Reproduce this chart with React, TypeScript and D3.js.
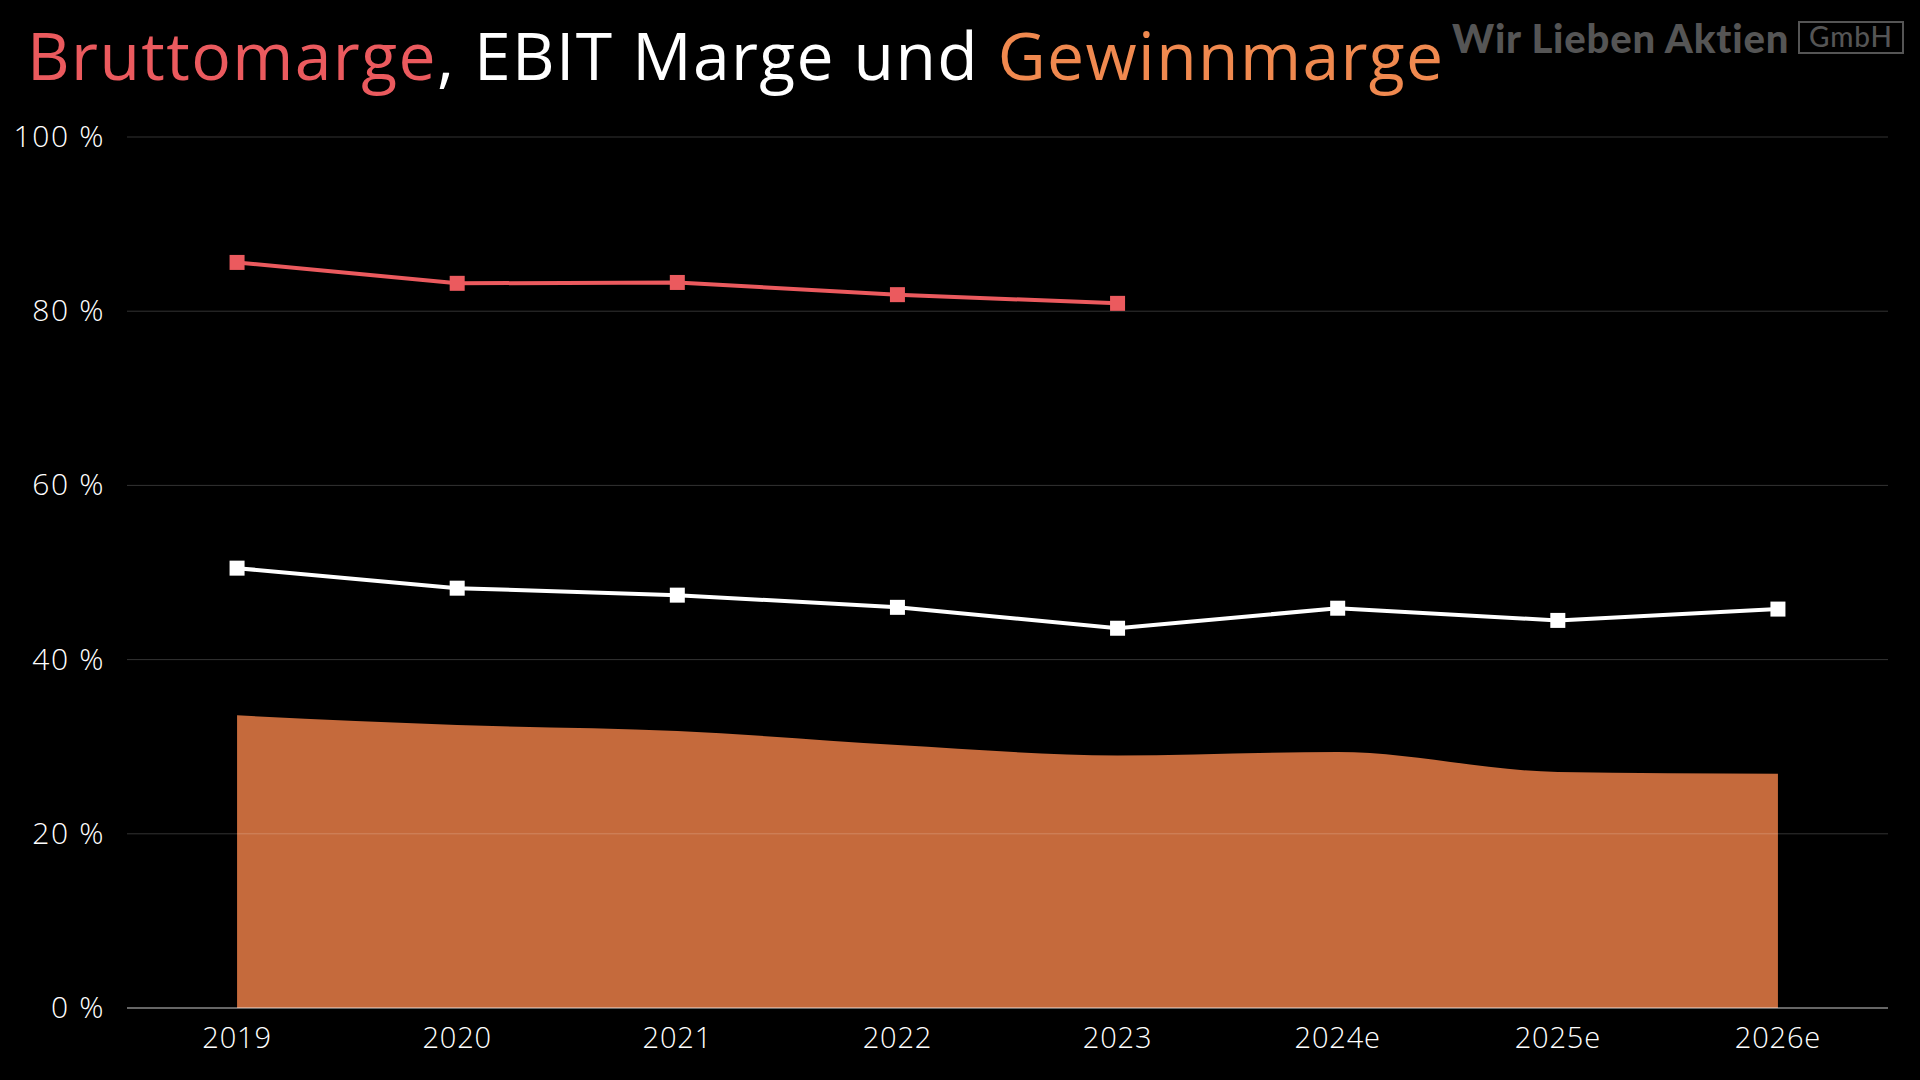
import React from "react";
import * as d3 from "d3";

const years = ["2019", "2020", "2021", "2022", "2023", "2024e", "2025e", "2026e"];
const bruttomarge = [85.6, 83.2, 83.3, 81.9, 80.9];
const ebitMarge = [50.5, 48.2, 47.4, 46.0, 43.6, 45.9, 44.5, 45.8];
const gewinnmarge = [33.6, 32.5, 31.8, 30.2, 29.0, 29.4, 27.1, 26.9];
const yTicks = [0, 20, 40, 60, 80, 100];

const W = 1920;
const H = 1080;
const FONT = "'Open Sans', 'Noto Sans', sans-serif";

export default function App() {
  const x = d3.scaleBand<string>().domain(years).range([127, 1888]);
  const cx = (d: string) => (x(d) as number) + x.bandwidth() / 2;
  const y = d3.scaleLinear().domain([0, 100]).range([1008, 137]);

  const area = d3
    .area<number>()
    .x((_, i) => cx(years[i]))
    .y0(y(0))
    .y1((d) => y(d))
    .curve(d3.curveMonotoneX);

  const line = d3
    .line<number>()
    .x((_, i) => cx(years[i]))
    .y((d) => y(d));

  const ms = 15;

  return (
    <div style={{ position: "absolute", left: 0, top: 0 }}>
      <svg width={W} height={H} style={{ display: "block" }}>
        <rect x={0} y={0} width={W} height={H} fill="#000" />
        <text x={27} y={80} fontFamily={FONT} fontSize={66} fontWeight={500} fill="#fff" letterSpacing={1.4}>
          <tspan fill="#eb5a5e">Bruttomarge</tspan>
          <tspan fill="#ffffff">, EBIT Marge und </tspan>
          <tspan fill="#f0894f">Gewinnmarge</tspan>
        </text>
        <text x={1452} y={53} fontFamily="Lato, 'Open Sans', sans-serif" fontSize={40} fontWeight={900} fill="#555" letterSpacing={0.8}>
          Wir Lieben Aktien
        </text>
        <rect x={1799} y={22} width={104} height={31} fill="none" stroke="#555" strokeWidth={2} />
        <text x={1851} y={47} textAnchor="middle" fontFamily="Lato, 'Open Sans', sans-serif" fontSize={28} fontWeight={500} fill="#555" letterSpacing={1}>
          GmbH
        </text>

        <path d={area(gewinnmarge) as string} fill="#c56a3c" />

        {yTicks.map((t) => (
          <g key={t}>
            <line
              x1={127}
              x2={1888}
              y1={y(t)}
              y2={y(t)}
              stroke={t === 0 ? "rgba(255,255,255,0.4)" : "rgba(255,255,255,0.2)"}
              strokeWidth={t === 0 ? 2 : 1}
            />
            <text x={105} y={y(t) + 10} textAnchor="end" fontFamily={FONT} fontSize={30} fontWeight={300} fill="#fff" letterSpacing={1.6}>
              {t} %
            </text>
          </g>
        ))}

        {years.map((yr) => (
          <text key={yr} x={cx(yr)} y={1048} textAnchor="middle" fontFamily={FONT} fontSize={29} fontWeight={300} fill="#fff" letterSpacing={0.8}>
            {yr}
          </text>
        ))}

        <path d={line(bruttomarge) as string} fill="none" stroke="#eb5a5e" strokeWidth={4} />
        {bruttomarge.map((v, i) => (
          <rect key={"b" + i} x={cx(years[i]) - ms / 2} y={y(v) - ms / 2} width={ms} height={ms} fill="#eb5a5e" />
        ))}

        <path d={line(ebitMarge) as string} fill="none" stroke="#ffffff" strokeWidth={4} />
        {ebitMarge.map((v, i) => (
          <rect key={"e" + i} x={cx(years[i]) - ms / 2} y={y(v) - ms / 2} width={ms} height={ms} fill="#ffffff" />
        ))}
      </svg>
    </div>
  );
}
